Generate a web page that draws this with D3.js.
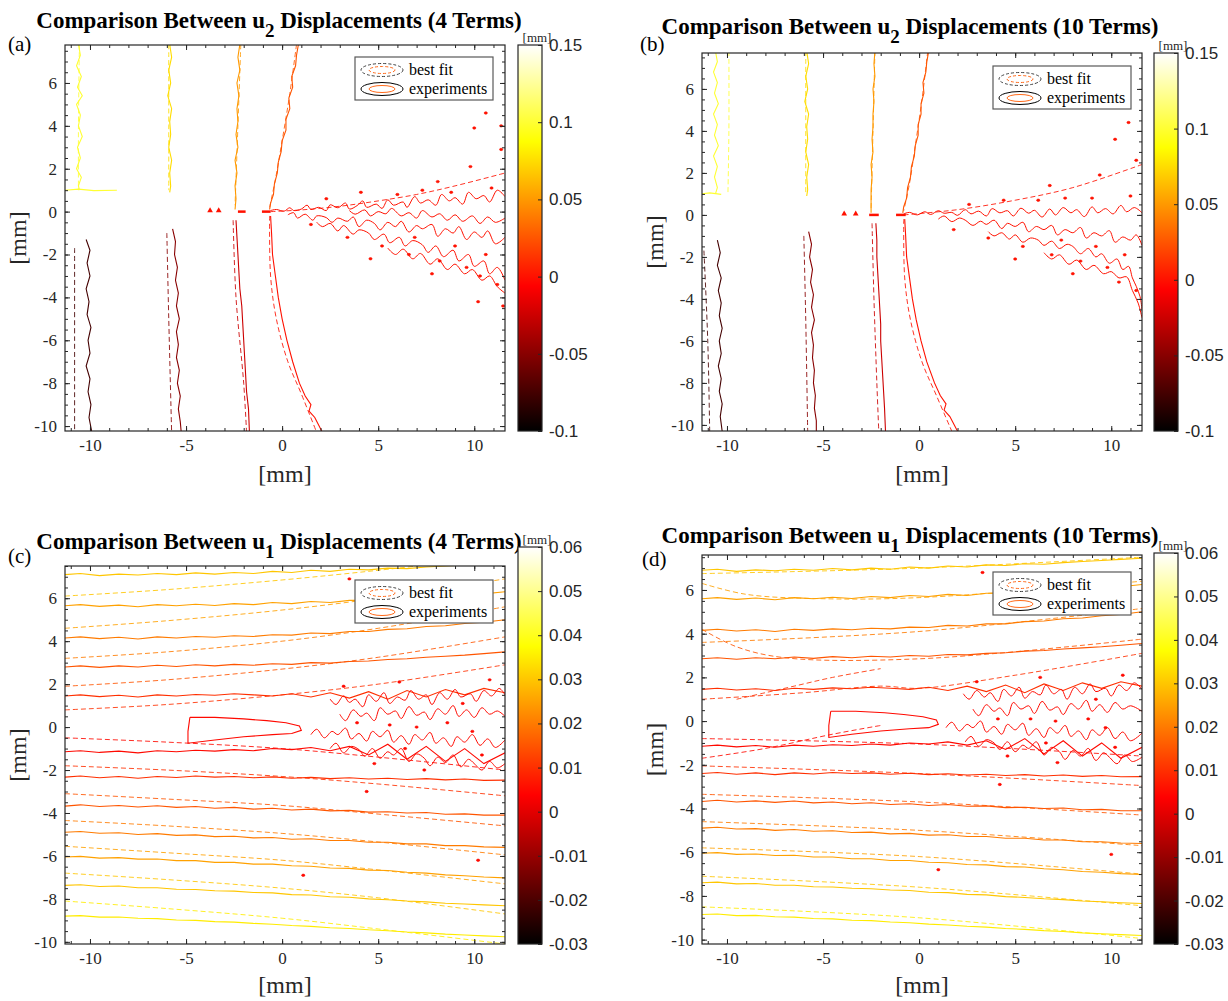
<!DOCTYPE html>
<html>
<head>
<meta charset="utf-8">
<title>u1 / u2 contour comparison</title>
<script src="https://cdn.jsdelivr.net/npm/d3@7"></script>
<style>
  body { margin: 0; background: #fff; }
  svg { display: block; font-family: "Liberation Serif", "Times New Roman", serif; }
  .axis text { fill: #262626; font-size: 17px; }
  .axis line { stroke: #262626; }
</style>
</head>
<body>
<svg id="fig" width="1228" height="1001"></svg>
<script>
// ---------------- data (mm / mm) ----------------
var xMajor = [-10, -5, 0, 5, 10];
var xMinor = d3.range(-11, 12, 1);
var yMajor = [-10, -8, -6, -4, -2, 0, 2, 4, 6];
var yMinor = d3.range(-10, 7.6, 0.5);
var u2Range = [-0.1, 0.15];
var u2Ticks = [-0.1, -0.05, 0, 0.05, 0.1, 0.15];
var u1Range = [-0.03, 0.06];
var u1Ticks = [-0.03, -0.02, -0.01, 0, 0.01, 0.02, 0.03, 0.04, 0.05, 0.06];

// u2, 4 terms : experiments (solid)
var aExp = [
  {lv: 0.1,   p: [-10.6,7.8, -10.5,7.3, -10.7,6.8, -10.45,6.3, -10.65,5.8, -10.4,5.4, -10.7,5.0, -10.5,4.5, -10.6,4.0, -10.4,3.5, -10.65,3.0, -10.5,2.5, -10.7,2.0, -10.45,1.6, -10.6,1.2, -10.55,1.0]},
  {lv: 0.1,   p: [-11.3,1.0, -10.6,1.05, -9.8,0.98, -8.6,1.0]},
  {lv: 0.075, p: [-5.85,7.8, -5.75,7.2, -5.9,6.6, -5.8,6.0, -5.95,5.4, -5.75,4.8, -5.85,4.2, -5.8,3.6, -5.9,3.0, -5.75,2.4, -5.85,1.8, -5.8,1.2, -5.85,0.9]},
  {lv: 0.05,  p: [-2.2,7.8, -2.3,7.2, -2.2,6.6, -2.35,6.0, -2.25,5.4, -2.35,4.8, -2.3,4.2, -2.4,3.6, -2.3,3.0, -2.45,2.4, -2.35,1.8, -2.45,1.2, -2.4,0.6, -2.45,0.1]},
  {lv: 0.025, p: [0.85,7.8, 0.75,7.3, 0.7,6.8, 0.5,6.3, 0.55,5.8, 0.35,5.3, 0.4,4.8, 0.2,4.3, 0.2,3.8, 0.0,3.3, -0.05,2.8, -0.2,2.3, -0.25,1.8, -0.4,1.3, -0.45,0.8, -0.6,0.4, -0.65,0.1]},
  {lv: -0.075, p: [-10.2,-1.3, -10.0,-1.8, -10.15,-2.4, -10.0,-3.0, -10.2,-3.6, -10.05,-4.2, -10.15,-4.8, -9.95,-5.4, -10.1,-6.0, -10.0,-6.6, -10.2,-7.2, -10.0,-7.8, -10.1,-8.4, -9.95,-9.0, -10.05,-9.6, -9.9,-10.3]},
  {lv: -0.05, p: [-5.7,-0.8, -5.55,-1.4, -5.6,-2.0, -5.45,-2.6, -5.55,-3.2, -5.4,-3.8, -5.5,-4.4, -5.35,-5.0, -5.5,-5.6, -5.4,-6.2, -5.5,-6.8, -5.35,-7.4, -5.45,-8.0, -5.3,-8.6, -5.4,-9.2, -5.3,-9.8, -5.25,-10.3]},
  {lv: -0.025, p: [-2.4,-0.4, -2.35,-1.2, -2.3,-2.0, -2.25,-2.8, -2.2,-3.6, -2.1,-4.4, -2.05,-5.2, -2.0,-6.0, -1.95,-6.8, -1.9,-7.6, -1.85,-8.4, -1.75,-9.2, -1.7,-10.3]},
  {lv: 0.0,   p: [-0.6,-0.2, -0.55,-1.0, -0.5,-2.0, -0.35,-3.0, -0.2,-4.0, 0.0,-5.0, 0.25,-6.0, 0.55,-7.0, 0.9,-8.0, 1.2,-8.6, 1.5,-9.0, 1.4,-9.3, 1.7,-9.6, 2.1,-10.3]}
];
// u2, 4 terms : best fit (dashed)
var aFit = [
  {lv: 0.1,    p: [-10.55,7.8, -10.6,4.0, -10.6,1.0]},
  {lv: 0.075,  p: [-5.9,7.8, -5.9,4.0, -5.9,1.0]},
  {lv: 0.05,   p: [-2.15,7.8, -2.3,4.0, -2.45,0.3]},
  {lv: 0.025,  p: [0.75,7.8, 0.4,5.5, 0.0,3.3, -0.35,1.5, -0.65,0.2]},
  {lv: -0.075, p: [-10.8,-1.7, -10.8,-6.0, -10.8,-10.3]},
  {lv: -0.05,  p: [-6.0,-1.0, -5.9,-5.0, -5.75,-10.3]},
  {lv: -0.025, p: [-2.55,-0.4, -2.4,-4.0, -2.0,-8.0, -1.85,-10.3]},
  {lv: 0.0,    p: [-0.65,-0.2, -0.6,-3.0, -0.3,-5.0, 0.3,-7.0, 1.0,-8.5, 1.8,-10.3]},
  {lv: 0.0,    p: [-0.6,0.0, 1,0.08, 3,0.25, 5,0.5, 7,0.8, 9,1.2, 11.6,1.8]}
];
// scattered crack-face contours behind the tip
var aNoise = [
  [-0.6,0.05, -0.3,0.1, 0.1,0.02, 0.4,0.18, 0.6,0.05, 1.0,0.12, 1.3,0.3, 1.5,0.1, 1.9,0.2, 2.3,0.05, 2.5,0.32, 2.9,0.18, 3.3,0.4, 3.5,0.12, 3.9,0.28, 4.2,0.5, 4.4,0.2, 4.9,0.35, 5.2,0.15, 5.5,0.55, 5.8,0.3, 6.3,0.45, 6.5,0.2, 6.9,0.7, 7.2,0.4, 7.6,0.55, 8.0,0.3, 8.3,0.8, 8.7,0.5, 9.0,0.65, 9.4,0.35, 9.7,0.9, 10.1,0.6, 10.5,0.75, 10.8,0.45, 11.2,1.0, 11.6,0.7],
  [0.3,-0.15, 0.6,-0.05, 0.8,-0.3, 1.2,-0.12, 1.6,-0.4, 1.8,-0.2, 2.3,-0.28, 2.6,-0.5, 2.9,-0.3, 3.4,-0.45, 3.7,-0.25, 4.0,-0.7, 4.4,-0.4, 4.8,-0.55, 5.1,-0.85, 5.5,-0.5, 5.9,-0.7, 6.2,-0.45, 6.6,-0.95, 7.0,-0.65, 7.3,-0.8, 7.8,-0.6, 8.1,-1.15, 8.5,-0.8, 8.9,-1.0, 9.2,-0.7, 9.6,-1.3, 10.0,-0.95, 10.4,-1.2, 10.7,-0.9, 11.1,-1.5, 11.6,-1.2],
  [1.8,-0.5, 2.1,-0.7, 2.5,-0.55, 2.9,-0.9, 3.2,-0.65, 3.7,-1.05, 4.0,-0.85, 4.5,-1.0, 4.8,-1.3, 5.3,-1.05, 5.6,-1.45, 6.1,-1.2, 6.4,-1.6, 6.8,-1.35, 7.3,-1.55, 7.6,-1.9, 8.0,-1.6, 8.4,-2.1, 8.9,-1.8, 9.2,-2.3, 9.7,-2.0, 10.0,-2.55, 10.5,-2.3, 10.8,-2.9, 11.2,-2.6, 11.6,-3.2],
  [5.5,-1.7, 5.9,-2.0, 6.3,-1.75, 6.8,-2.2, 7.2,-1.95, 7.7,-2.45, 8.1,-2.2, 8.6,-2.7, 9.0,-2.45, 9.5,-2.9, 9.9,-2.7, 10.4,-3.2, 10.8,-3.0, 11.2,-3.5, 11.6,-3.8],
  [3.5,0.05, 3.8,-0.12, 4.3,0.08, 4.6,-0.2, 5.0,0.0, 5.4,-0.1, 5.7,0.15, 6.2,-0.2, 6.6,-0.05, 7.0,-0.3, 7.3,0.05, 7.8,-0.25, 8.2,-0.1, 8.6,-0.4, 9.0,-0.15, 9.4,-0.45, 9.9,-0.2, 10.3,-0.55, 10.7,-0.25, 11.1,-0.5, 11.6,-0.3]
];
var aDots = [[1.5,-0.6],[2.3,0.6],[3.4,-1.2],[4.1,0.9],[5.2,-1.6],[6.0,0.8],[6.6,-2.0],[7.3,1.0],[8.2,-2.3],[8.8,0.9],[9.6,-2.6],[10.3,-3.0],[10.9,1.1],[11.2,-3.4],[10.6,4.6],[10.0,3.9],[11.4,4.0],[11.4,2.9],[9.8,2.1],[4.6,-2.2],[7.8,-2.9],[9.0,-1.6],[10.6,-2.0],[6.9,-1.2],[8.1,1.4],[10.2,-4.2],[11.5,-4.4]];
var aTips = [[-3.75,0.05],[-3.3,0.05]];
var aBars = [[-2.3,-1.9,0],[-1.05,-0.6,0]];

// u2, 10 terms
var bExp = [
  {lv: 0.1,   p: [-10.6,7.8, -10.5,7.3, -10.7,6.8, -10.5,6.3, -10.65,5.8, -10.45,5.3, -10.7,4.8, -10.5,4.3, -10.65,3.8, -10.45,3.3, -10.7,2.8, -10.5,2.3, -10.65,1.8, -10.5,1.3, -10.6,1.0]},
  {lv: 0.1,   p: [-11.3,1.0, -10.9,1.05, -10.3,0.98]},
  {lv: 0.075, p: [-5.85,7.8, -5.75,7.2, -5.9,6.6, -5.8,6.0, -5.95,5.4, -5.75,4.8, -5.85,4.2, -5.8,3.6, -5.9,3.0, -5.75,2.4, -5.85,1.8, -5.8,1.2, -5.85,0.9]},
  {lv: 0.05,  p: [-2.3,7.8, -2.35,7.2, -2.3,6.6, -2.4,6.0, -2.35,5.4, -2.4,4.8, -2.4,4.2, -2.45,3.6, -2.4,3.0, -2.5,2.4, -2.45,1.8, -2.5,1.2, -2.5,0.6, -2.5,0.1]},
  {lv: 0.025, p: [0.5,7.8, 0.4,7.3, 0.35,6.8, 0.2,6.3, 0.25,5.8, 0.1,5.3, 0.1,4.8, -0.05,4.3, -0.05,3.8, -0.2,3.3, -0.25,2.8, -0.4,2.3, -0.45,1.8, -0.6,1.3, -0.65,0.8, -0.8,0.4, -0.85,0.1]},
  {lv: -0.075, p: [-10.5,-1.2, -10.35,-1.8, -10.5,-2.4, -10.3,-3.0, -10.45,-3.6, -10.3,-4.2, -10.4,-4.8, -10.25,-5.4, -10.4,-6.0, -10.3,-6.6, -10.45,-7.2, -10.3,-7.8, -10.4,-8.4, -10.25,-9.0, -10.35,-9.6, -10.25,-10.3]},
  {lv: -0.05, p: [-5.75,-0.8, -5.6,-1.4, -5.7,-2.0, -5.55,-2.6, -5.65,-3.2, -5.5,-3.8, -5.6,-4.4, -5.45,-5.0, -5.6,-5.6, -5.5,-6.2, -5.55,-6.8, -5.45,-7.4, -5.5,-8.0, -5.4,-8.6, -5.45,-9.2, -5.35,-9.8, -5.35,-10.3]},
  {lv: -0.025, p: [-2.25,-0.4, -2.2,-1.2, -2.2,-2.0, -2.15,-2.8, -2.1,-3.6, -2.05,-4.4, -2.0,-5.2, -2.0,-6.0, -1.95,-6.8, -1.9,-7.6, -1.85,-8.4, -1.8,-9.2, -1.75,-10.3]},
  {lv: 0.0,   p: [-0.75,-0.2, -0.7,-1.0, -0.65,-2.0, -0.5,-3.0, -0.35,-4.0, -0.15,-5.0, 0.1,-6.0, 0.4,-7.0, 0.8,-8.0, 1.1,-8.6, 1.4,-9.0, 1.3,-9.3, 1.6,-9.6, 2.0,-10.3]}
];
var bFit = [
  {lv: 0.1,    p: [-9.9,7.8, -9.9,4.0, -9.95,1.0]},
  {lv: 0.075,  p: [-5.9,7.8, -5.9,4.0, -5.9,1.0]},
  {lv: 0.05,   p: [-2.3,7.8, -2.4,4.0, -2.5,0.3]},
  {lv: 0.025,  p: [0.45,7.8, 0.15,5.5, -0.2,3.3, -0.5,1.5, -0.8,0.2]},
  {lv: -0.075, p: [-11.2,-1.7, -11.0,-6.0, -10.9,-10.3]},
  {lv: -0.05,  p: [-6.0,-1.0, -5.9,-5.0, -5.8,-10.3]},
  {lv: -0.025, p: [-2.45,-0.4, -2.35,-4.0, -2.2,-8.0, -2.1,-10.3]},
  {lv: 0.0,    p: [-0.8,-0.2, -0.75,-3.0, -0.45,-5.0, 0.15,-7.0, 0.9,-8.6, 1.7,-10.3]},
  {lv: 0.0,    p: [-0.8,0.0, 2,0.25, 5,0.7, 8,1.3, 11.6,2.4]}
];
var bNoise = [
  [-0.8,0.05, -0.5,0.12, -0.1,0.0, 0.3,0.15, 0.6,0.02, 1.0,0.2, 1.3,0.08, 1.7,0.12, 2.0,-0.02, 2.4,0.25, 2.7,0.05, 3.1,0.18, 3.5,-0.05, 3.8,0.3, 4.2,0.1, 4.6,0.2, 4.9,-0.05, 5.3,0.32, 5.7,0.08, 6.0,0.22, 6.4,-0.1, 6.8,0.28, 7.1,0.0, 7.5,0.35, 7.9,0.1, 8.2,0.25, 8.6,-0.08, 9.0,0.38, 9.3,0.1, 9.7,0.3, 10.1,0.05, 10.5,0.45, 10.8,0.15, 11.2,0.35, 11.6,0.1],
  [1.0,-0.2, 1.3,-0.05, 1.7,-0.32, 2.1,-0.15, 2.4,-0.25, 2.8,-0.5, 3.2,-0.3, 3.5,-0.45, 3.9,-0.25, 4.3,-0.65, 4.6,-0.4, 5.0,-0.55, 5.4,-0.35, 5.7,-0.8, 6.1,-0.55, 6.5,-0.7, 6.9,-0.5, 7.2,-0.95, 7.6,-0.7, 8.0,-0.85, 8.4,-0.6, 8.7,-1.1, 9.1,-0.85, 9.5,-1.0, 9.9,-0.75, 10.2,-1.3, 10.6,-1.05, 11.0,-1.2, 11.3,-0.95, 11.6,-1.45],
  [3.6,-0.8, 3.9,-1.0, 4.3,-0.85, 4.7,-1.15, 5.0,-0.95, 5.4,-1.3, 5.8,-1.1, 6.2,-1.2, 6.5,-1.45, 6.9,-1.25, 7.3,-1.6, 7.7,-1.4, 8.0,-1.5, 8.4,-1.85, 8.8,-1.6, 9.2,-2.0, 9.5,-1.85, 9.9,-2.3, 10.3,-2.1, 10.6,-2.6, 10.9,-2.45, 11.1,-3.0, 11.3,-3.4, 11.5,-3.9, 11.6,-4.5],
  [6.5,-1.8, 6.9,-2.1, 7.3,-1.9, 7.8,-2.35, 8.2,-2.15, 8.7,-2.6, 9.1,-2.4, 9.6,-2.8, 10.0,-2.7, 10.4,-3.0, 10.8,-2.95, 11.1,-3.6, 11.4,-4.2, 11.6,-4.9]
];
var bDots = [[1.8,-0.7],[2.6,0.5],[3.6,-1.1],[4.4,0.7],[5.4,-1.5],[6.2,0.7],[6.9,-1.9],[7.6,0.8],[8.4,-2.2],[9.0,0.8],[9.8,-2.5],[10.4,-3.2],[11.0,0.9],[11.3,-3.6],[10.9,4.4],[10.2,3.6],[11.3,2.6],[9.4,1.9],[5.0,-2.1],[8.0,-2.8],[6.8,1.4],[9.2,-1.5],[10.7,-1.9],[7.4,-1.2]];
var bTips = [[-3.9,0.05],[-3.3,0.05]];
var bBars = [[-2.6,-2.1,0],[-1.2,-0.7,0]];

// u1 panels: contour heights (y, mm) sampled at u1X
var u1X = [-11.3,-10.5,-9.5,-8.5,-7.5,-6.5,-5.5,-4.5,-3.5,-2.5,-1.5,-0.5,0.5,1.5,2.5,3.5,4.5,5.5,6.5,7.5,8.5,9.5,10.5,11.6];
var cExp = [
  {lv: 0.03,  y: [7.10,7.15,7.05,7.12,7.08,7.15,7.10,7.18,7.12,7.20,7.15,7.25,7.20,7.30,7.25,7.35,7.32,7.40,7.38,7.45,7.50,7.55,7.60,7.65]},
  {lv: 0.025, y: [5.65,5.70,5.62,5.68,5.60,5.70,5.65,5.72,5.66,5.75,5.70,5.80,5.75,5.85,5.80,5.90,5.90,6.00,6.00,6.10,6.10,6.20,6.20,6.30]},
  {lv: 0.02,  y: [4.15,4.20,4.12,4.18,4.10,4.20,4.15,4.22,4.18,4.25,4.22,4.30,4.28,4.38,4.35,4.45,4.45,4.55,4.58,4.68,4.72,4.82,4.88,5.00]},
  {lv: 0.015, y: [2.80,2.85,2.78,2.85,2.80,2.88,2.82,2.90,2.85,2.92,2.88,2.95,2.92,3.00,2.98,3.05,3.08,3.15,3.18,3.25,3.30,3.35,3.42,3.50]},
  {lv: 0.01,  y: [1.45,1.50,1.42,1.48,1.40,1.50,1.45,1.52,1.48,1.55,1.50,1.45,1.55,1.40,1.60,1.35,1.65,1.30,1.70,1.40,1.75,1.50,1.80,1.60]},
  {lv: 0.005, y: [-1.15,-1.10,-1.18,-1.12,-1.20,-1.10,-1.15,-1.08,-1.12,-1.05,-1.10,-1.00,-1.05,-0.95,-1.10,-0.90,-1.30,-0.80,-1.50,-0.90,-1.60,-1.00,-1.70,-1.20]},
  {lv: 0.01,  y: [-2.33,-2.28,-2.36,-2.30,-2.38,-2.30,-2.35,-2.28,-2.33,-2.30,-2.36,-2.32,-2.38,-2.34,-2.40,-2.36,-2.42,-2.38,-2.44,-2.40,-2.46,-2.42,-2.48,-2.47]},
  {lv: 0.015, y: [-3.68,-3.62,-3.70,-3.65,-3.72,-3.66,-3.74,-3.70,-3.78,-3.74,-3.82,-3.78,-3.86,-3.82,-3.90,-3.88,-3.96,-3.94,-4.00,-3.98,-4.06,-4.04,-4.10,-4.10]},
  {lv: 0.02,  y: [-4.90,-4.86,-4.94,-4.92,-5.00,-4.96,-5.04,-5.02,-5.10,-5.08,-5.16,-5.14,-5.22,-5.20,-5.28,-5.28,-5.36,-5.36,-5.44,-5.44,-5.52,-5.52,-5.58,-5.60]},
  {lv: 0.025, y: [-6.05,-6.02,-6.10,-6.08,-6.15,-6.14,-6.22,-6.22,-6.30,-6.30,-6.38,-6.38,-6.46,-6.48,-6.56,-6.58,-6.66,-6.68,-6.76,-6.80,-6.88,-6.92,-6.98,-7.02]},
  {lv: 0.03,  y: [-7.37,-7.34,-7.42,-7.40,-7.48,-7.48,-7.55,-7.56,-7.62,-7.64,-7.70,-7.72,-7.80,-7.82,-7.90,-7.92,-8.00,-8.04,-8.10,-8.14,-8.20,-8.24,-8.28,-8.32]},
  {lv: 0.035, y: [-8.80,-8.78,-8.85,-8.84,-8.90,-8.92,-8.98,-9.00,-9.06,-9.08,-9.14,-9.18,-9.24,-9.28,-9.34,-9.38,-9.44,-9.48,-9.54,-9.58,-9.64,-9.68,-9.72,-9.76]}
];
var cLoop = [-4.8,0.45, -3.5,0.45, -2,0.38, -0.8,0.3, 0.2,0.2, 0.9,0.05, 1.0,-0.15, 0.5,-0.3, -0.5,-0.35, -2,-0.45, -3.5,-0.6, -4.9,-0.75, -4.9,-0.2, -4.8,0.45];
var cFit = [
  {lv: 0.03,  p: [-11.3,6.1, -6,6.4, 0,6.85, 5,7.3, 9,7.7]},
  {lv: 0.025, p: [-11.3,4.6, -6,4.95, 0,5.45, 5,6.0, 11.6,6.9]},
  {lv: 0.02,  p: [-11.3,3.2, -6,3.5, 0,4.0, 5,4.6, 11.6,5.6]},
  {lv: 0.015, p: [-11.3,1.9, -6,2.2, 0,2.7, 5,3.25, 11.6,4.2]},
  {lv: 0.01,  p: [-11.3,0.8, -6,1.05, 0,1.5, 5,2.0, 11.6,2.9]},
  {lv: 0.005, p: [-11.3,-0.5, -6,-0.7, 0,-1.0, 5,-1.4, 11.6,-2.0]},
  {lv: 0.01,  p: [-11.3,-1.8, -6,-2.0, 0,-2.3, 5,-2.65, 11.6,-3.2]},
  {lv: 0.015, p: [-11.3,-3.1, -6,-3.35, 0,-3.65, 5,-4.05, 11.6,-4.6]},
  {lv: 0.02,  p: [-11.3,-4.35, -6,-4.6, 0,-4.95, 5,-5.35, 11.6,-5.95]},
  {lv: 0.025, p: [-11.3,-5.55, -6,-5.85, 0,-6.2, 5,-6.65, 11.6,-7.3]},
  {lv: 0.03,  p: [-11.3,-6.8, -6,-7.1, 0,-7.5, 5,-7.95, 11.6,-8.7]},
  {lv: 0.035, p: [-11.3,-8.1, -6,-8.45, 0,-8.9, 5,-9.4, 11.6,-10.1]}
];
var cNoise = [
  [2.5,1.3, 2.8,1.05, 3.2,1.45, 3.5,1.15, 3.8,1.3, 4.2,0.95, 4.5,1.5, 4.9,1.2, 5.3,1.6, 5.6,1.1, 6.0,1.4, 6.4,1.25, 6.7,1.7, 7.1,1.3, 7.5,1.5, 7.8,1.05, 8.2,1.6, 8.6,1.3, 9.0,1.75, 9.3,1.4, 9.8,1.55, 10.1,1.2, 10.5,1.7, 10.9,1.45, 11.3,1.8, 11.6,1.5],
  [3.0,0.6, 3.3,0.3, 3.7,0.8, 4.1,0.5, 4.4,0.65, 4.8,0.3, 5.1,0.9, 5.5,0.6, 5.9,0.75, 6.2,0.4, 6.6,0.95, 7.0,0.55, 7.4,0.7, 7.7,0.35, 8.1,0.85, 8.5,0.6, 8.9,1.0, 9.2,0.5, 9.6,0.8, 10.0,0.45, 10.4,0.9, 10.8,0.6, 11.2,0.75, 11.6,0.5],
  [1.5,-0.35, 1.8,-0.1, 2.2,-0.5, 2.6,-0.2, 2.9,-0.35, 3.3,-0.05, 3.6,-0.55, 4.0,-0.3, 4.4,-0.65, 4.7,-0.2, 5.1,-0.45, 5.5,-0.15, 5.8,-0.7, 6.2,-0.4, 6.6,-0.8, 6.9,-0.35, 7.3,-0.6, 7.7,-0.25, 8.0,-0.75, 8.4,-0.5, 8.8,-0.9, 9.1,-0.45, 9.5,-0.7, 9.9,-0.35, 10.3,-0.85, 10.7,-0.55, 11.1,-0.95, 11.6,-0.6],
  [2.5,-1.0, 2.8,-0.75, 3.2,-1.2, 3.6,-0.9, 4.0,-1.05, 4.3,-1.35, 4.7,-1.0, 5.1,-1.45, 5.5,-1.15, 5.8,-1.3, 6.2,-1.0, 6.6,-1.6, 7.0,-1.25, 7.4,-1.45, 7.7,-1.8, 8.1,-1.4, 8.5,-1.65, 8.9,-1.3, 9.3,-1.85, 9.7,-1.5, 10.0,-1.7, 10.4,-2.0, 10.8,-1.6, 11.2,-1.9, 11.6,-1.7]
];
var cDots = [[3.2,1.9],[4.8,-1.7],[6.1,2.1],[7.4,-2.0],[8.6,0.2],[9.9,-0.2],[10.8,2.2],[3.9,0.2],[5.6,0.1],[7.0,0.0],[8.9,6.6],[3.5,6.9],[1.1,-6.9],[10.2,-6.2],[4.4,-3.0],[9.4,1.1],[6.4,-1.0],[10.4,-1.3]];

var dExp = [
  {lv: 0.03,  y: [6.90,6.95,6.85,6.92,6.88,6.95,6.90,6.98,6.92,7.00,6.95,7.05,7.00,7.10,7.05,7.15,7.12,7.20,7.18,7.25,7.30,7.35,7.40,7.45]},
  {lv: 0.025, y: [5.60,5.65,5.57,5.63,5.55,5.65,5.60,5.67,5.61,5.70,5.65,5.75,5.70,5.80,5.75,5.85,5.85,5.95,5.95,6.05,6.05,6.15,6.15,6.25]},
  {lv: 0.02,  y: [4.15,4.20,4.12,4.18,4.10,4.20,4.15,4.22,4.18,4.25,4.22,4.30,4.28,4.38,4.35,4.45,4.45,4.55,4.58,4.68,4.72,4.82,4.88,5.00]},
  {lv: 0.015, y: [2.85,2.90,2.83,2.90,2.85,2.93,2.87,2.95,2.90,2.97,2.93,3.00,2.97,3.05,3.03,3.10,3.13,3.20,3.23,3.30,3.35,3.40,3.47,3.55]},
  {lv: 0.01,  y: [1.45,1.50,1.42,1.48,1.40,1.50,1.45,1.52,1.48,1.55,1.50,1.45,1.55,1.40,1.60,1.35,1.65,1.30,1.70,1.40,1.75,1.50,1.80,1.60]},
  {lv: 0.005, y: [-1.15,-1.10,-1.18,-1.12,-1.20,-1.10,-1.15,-1.08,-1.12,-1.05,-1.10,-1.00,-1.05,-0.95,-1.10,-0.90,-1.30,-0.80,-1.50,-0.90,-1.60,-1.00,-1.70,-1.20]},
  {lv: 0.01,  y: [-2.40,-2.35,-2.43,-2.37,-2.45,-2.37,-2.42,-2.35,-2.40,-2.37,-2.43,-2.39,-2.45,-2.41,-2.47,-2.43,-2.49,-2.45,-2.51,-2.47,-2.53,-2.49,-2.55,-2.54]},
  {lv: 0.015, y: [-3.68,-3.62,-3.70,-3.65,-3.72,-3.66,-3.74,-3.70,-3.78,-3.74,-3.82,-3.78,-3.86,-3.82,-3.90,-3.88,-3.96,-3.94,-4.00,-3.98,-4.06,-4.04,-4.10,-4.10]},
  {lv: 0.02,  y: [-4.90,-4.86,-4.94,-4.92,-5.00,-4.96,-5.04,-5.02,-5.10,-5.08,-5.16,-5.14,-5.22,-5.20,-5.28,-5.28,-5.36,-5.36,-5.44,-5.44,-5.52,-5.52,-5.58,-5.60]},
  {lv: 0.025, y: [-6.05,-6.02,-6.10,-6.08,-6.15,-6.14,-6.22,-6.22,-6.30,-6.30,-6.38,-6.38,-6.46,-6.48,-6.56,-6.58,-6.66,-6.68,-6.76,-6.80,-6.88,-6.92,-6.98,-7.02]},
  {lv: 0.03,  y: [-7.40,-7.37,-7.45,-7.43,-7.51,-7.51,-7.58,-7.59,-7.65,-7.67,-7.73,-7.75,-7.83,-7.85,-7.93,-7.95,-8.03,-8.07,-8.13,-8.17,-8.23,-8.27,-8.31,-8.35]},
  {lv: 0.035, y: [-8.85,-8.83,-8.90,-8.89,-8.95,-8.97,-9.03,-9.05,-9.11,-9.13,-9.19,-9.23,-9.29,-9.33,-9.39,-9.43,-9.49,-9.53,-9.59,-9.63,-9.69,-9.73,-9.77,-9.81]}
];
var dLoop = [-4.6,0.45, -3.3,0.45, -1.8,0.38, -0.8,0.3, 0.2,0.2, 0.9,0.05, 1.0,-0.15, 0.5,-0.3, -0.5,-0.35, -2,-0.45, -3.5,-0.6, -4.7,-0.75, -4.7,-0.2, -4.6,0.45];
var dFit = [
  {lv: 0.03,  p: [-11.3,6.75, 0,7.0, 11.6,7.5]},
  {lv: 0.025, p: [-11.3,6.3, -9,5.8, -5,5.6, 0,5.65, 11.6,6.4]},
  {lv: 0.02,  p: [-11.3,3.6, 0,4.1, 11.6,5.15]},
  {lv: 0.015, p: [-11.3,4.2, -9.5,3.4, -7,2.9, 0,2.85, 11.6,3.75]},
  {lv: 0.01,  p: [-11.3,1.0, -6,1.3, -2,1.6, 0,1.5, 5,2.1, 11.6,3.1]},
  {lv: 0.01,  p: [-9.5,1.0, -8,1.3, -6.5,1.6, -4.5,2.0, -2,2.4]},
  {lv: 0.005, p: [-11.3,-1.7, -8,-1.25, -4.5,-0.6, -2,-0.2]},
  {lv: 0.005, p: [-11.3,-0.8, 0,-1.05, 11.6,-1.6]},
  {lv: 0.01,  p: [-11.3,-2.05, 0,-2.4, 11.6,-2.95]},
  {lv: 0.015, p: [-11.3,-3.35, 0,-3.7, 11.6,-4.3]},
  {lv: 0.02,  p: [-11.3,-4.6, 0,-5.0, 11.6,-5.7]},
  {lv: 0.025, p: [-11.3,-5.8, 0,-6.2, 11.6,-7.0]},
  {lv: 0.03,  p: [-11.3,-7.1, 0,-7.6, 11.6,-8.45]},
  {lv: 0.035, p: [-11.3,-8.5, 0,-9.0, 11.6,-9.95]}
];
var dNoise = [
  [2.3,1.25, 2.6,1.0, 3.0,1.4, 3.4,1.1, 3.7,1.3, 4.1,0.9, 4.4,1.45, 4.8,1.15, 5.2,1.55, 5.5,1.05, 5.9,1.35, 6.3,1.2, 6.6,1.65, 7.0,1.25, 7.4,1.45, 7.7,1.0, 8.1,1.55, 8.5,1.25, 8.9,1.7, 9.2,1.35, 9.7,1.5, 10.0,1.15, 10.4,1.65, 10.8,1.4, 11.2,1.75, 11.6,1.45],
  [2.8,0.55, 3.1,0.25, 3.5,0.75, 3.9,0.45, 4.2,0.6, 4.6,0.25, 4.9,0.85, 5.3,0.55, 5.7,0.7, 6.0,0.35, 6.4,0.9, 6.8,0.5, 7.2,0.65, 7.5,0.3, 7.9,0.8, 8.3,0.55, 8.7,0.95, 9.0,0.45, 9.4,0.75, 9.8,0.4, 10.2,0.85, 10.6,0.55, 11.0,0.7, 11.6,0.45],
  [1.4,-0.3, 1.7,-0.05, 2.1,-0.45, 2.5,-0.15, 2.8,-0.3, 3.2,0.0, 3.5,-0.5, 3.9,-0.25, 4.3,-0.6, 4.6,-0.15, 5.0,-0.4, 5.4,-0.1, 5.7,-0.65, 6.1,-0.35, 6.5,-0.75, 6.8,-0.3, 7.2,-0.55, 7.6,-0.2, 7.9,-0.7, 8.3,-0.45, 8.7,-0.85, 9.0,-0.4, 9.4,-0.65, 9.8,-0.3, 10.2,-0.8, 10.6,-0.5, 11.0,-0.9, 11.6,-0.55],
  [2.4,-0.95, 2.7,-0.7, 3.1,-1.15, 3.5,-0.85, 3.9,-1.0, 4.2,-1.3, 4.6,-0.95, 5.0,-1.4, 5.4,-1.1, 5.7,-1.25, 6.1,-0.95, 6.5,-1.55, 6.9,-1.2, 7.3,-1.4, 7.6,-1.75, 8.0,-1.35, 8.4,-1.6, 8.8,-1.25, 9.2,-1.8, 9.6,-1.45, 9.9,-1.65, 10.3,-1.95, 10.7,-1.55, 11.1,-1.85, 11.6,-1.65]
];
var dDots = [[3.0,1.8],[4.6,-1.6],[6.3,2.0],[7.2,-1.9],[8.8,0.1],[9.7,-0.3],[10.6,2.1],[4.1,0.1],[5.8,0.1],[7.1,0.0],[8.6,6.5],[3.3,6.8],[1.0,-6.8],[10.0,-6.1],[4.2,-2.9],[9.2,1.0],[6.6,-1.0],[10.2,-1.2]];

var titles = [
  {q: "2", t: "4 Terms"}, {q: "2", t: "10 Terms"},
  {q: "1", t: "4 Terms"}, {q: "1", t: "10 Terms"}
];
var tags = ["(a)", "(b)", "(c)", "(d)"];
var legendText = ["best fit", "experiments"];

// ---------------- layout ----------------
var svg = d3.select("#fig");
var defs = svg.append("defs");
var xDomain = [-11.3, 11.6];

var panels = [
  {id: "a", box: [65, 45, 505, 431],  cb: [518, 45, 542, 431],  yd: [-10.23, 7.77], cd: u2Range, ct: u2Ticks,
   exp: aExp.map(function(c){ return {lv: c.lv, pts: pairs(c.p)}; }), fit: aFit, noise: aNoise, dots: aDots, tips: aTips, bars: aBars,
   title: [279, 28], tag: [8, 51], unit: [537, 42], leg: [355, 57], ylab: 18, xlab: 482},
  {id: "b", box: [702, 53, 1142, 431], cb: [1154, 53, 1178, 431], yd: [-10.29, 7.71], cd: u2Range, ct: u2Ticks,
   exp: bExp.map(function(c){ return {lv: c.lv, pts: pairs(c.p)}; }), fit: bFit, noise: bNoise, dots: bDots, tips: bTips, bars: bBars,
   title: [910, 34], tag: [640, 51], unit: [1173, 50], leg: [993, 66], ylab: 655, xlab: 482},
  {id: "c", box: [65, 566, 505, 944], cb: [518, 547, 542, 944], yd: [-10.1, 7.5], cd: u1Range, ct: u1Ticks,
   exp: u1Lines(cExp, cLoop), fit: cFit, noise: cNoise, dots: cDots, tips: [], bars: [],
   title: [279, 549], tag: [8, 563], unit: [537, 544], leg: [355, 580], ylab: 18, xlab: 993},
  {id: "d", box: [702, 555, 1142, 944], cb: [1154, 553, 1178, 944], yd: [-10.2, 7.6], cd: u1Range, ct: u1Ticks,
   exp: u1Lines(dExp, dLoop), fit: dFit, noise: dNoise, dots: dDots, tips: [], bars: [],
   title: [910, 543], tag: [642, 566], unit: [1173, 550], leg: [993, 572], ylab: 655, xlab: 993}
];

function pairs(a) {
  var r = [];
  for (var i = 0; i < a.length; i += 2) r.push([a[i], a[i + 1]]);
  return r;
}

function u1Lines(exp, loop) {
  var out = exp.map(function(c) {
    return {lv: c.lv, pts: u1X.map(function(x, i) { return [x, c.y[i]]; })};
  });
  out.push({lv: 0.005, pts: pairs(loop)});
  return out;
}

// MATLAB "hot": black -> red -> yellow -> white
function hot(range) {
  var lo = range[0], s = range[1] - range[0];
  return d3.scaleLinear()
    .domain([lo, lo + 0.375 * s, lo + 0.75 * s, range[1]])
    .range(["#000000", "#ff0000", "#ffff00", "#ffffff"])
    .clamp(true);
}

panels.forEach(drawPanel);

function drawPanel(p, k) {
  var x0 = p.box[0], y0 = p.box[1], x1 = p.box[2], y1 = p.box[3];
  var x = d3.scaleLinear().domain(xDomain).range([x0, x1]);
  var y = d3.scaleLinear().domain(p.yd).range([y1, y0]);
  var col = hot(p.cd);
  var g = svg.append("g");

  defs.append("clipPath").attr("id", "clip-" + p.id)
    .append("rect").attr("x", x0).attr("y", y0).attr("width", x1 - x0).attr("height", y1 - y0);
  var plot = g.append("g").attr("clip-path", "url(#clip-" + p.id + ")");

  var line = d3.line().x(function(d){ return x(d[0]); }).y(function(d){ return y(d[1]); });
  var smooth = d3.line().x(function(d){ return x(d[0]); }).y(function(d){ return y(d[1]); }).curve(d3.curveCatmullRom);

  // best fit contours
  plot.selectAll("path.fit").data(p.fit).enter().append("path")
    .attr("class", "fit")
    .attr("d", function(c){ return smooth(pairs(c.p)); })
    .attr("fill", "none")
    .attr("stroke", function(c){ return col(c.lv); })
    .attr("stroke-opacity", 0.85)
    .attr("stroke-width", 1)
    .attr("stroke-dasharray", "5,3");

  // experiment contours
  plot.selectAll("path.exp").data(p.exp).enter().append("path")
    .attr("class", "exp")
    .attr("d", function(c){ return line(c.pts); })
    .attr("fill", "none")
    .attr("stroke", function(c){ return col(c.lv); })
    .attr("stroke-width", 1.1);

  var noiseCol = p.id < "c" ? col(0) : col(0.005);
  plot.selectAll("path.noise").data(p.noise).enter().append("path")
    .attr("class", "noise")
    .attr("d", function(c){ return smooth(pairs(c)); })
    .attr("fill", "none")
    .attr("stroke", noiseCol)
    .attr("stroke-width", 1);

  plot.selectAll("ellipse.dot").data(p.dots).enter().append("ellipse")
    .attr("cx", function(d){ return x(d[0]); })
    .attr("cy", function(d){ return y(d[1]); })
    .attr("rx", 1.6).attr("ry", 1.2)
    .attr("fill", noiseCol).attr("stroke", noiseCol).attr("stroke-width", 0.6);

  plot.selectAll("path.tip").data(p.tips).enter().append("path")
    .attr("transform", function(d){ return "translate(" + x(d[0]) + "," + y(d[1]) + ")"; })
    .attr("d", d3.symbol(d3.symbolTriangle, 14))
    .attr("fill", col(0));
  plot.selectAll("line.bar").data(p.bars).enter().append("line")
    .attr("x1", function(d){ return x(d[0]); }).attr("x2", function(d){ return x(d[1]); })
    .attr("y1", function(d){ return y(d[2]); }).attr("y2", function(d){ return y(d[2]); })
    .attr("stroke", col(0)).attr("stroke-width", 2.5);

  // axes (ticks pointing inward, MATLAB style)
  var ax = g.append("g").attr("class", "axis");
  function put(gen, tx, ty, vals, size, labels, pad) {
    var a = ax.append("g").attr("transform", "translate(" + tx + "," + ty + ")")
      .call(gen.tickValues(vals).tickSize(size).tickSizeOuter(0).tickPadding(pad || 0)
        .tickFormat(labels ? function(d){ return String(d); } : ""));
    a.select(".domain").remove();
    return a;
  }
  put(d3.axisBottom(x), 0, y1, xMajor, -5, true, 8);
  put(d3.axisBottom(x), 0, y1, xMinor, -3, false);
  put(d3.axisTop(x), 0, y0, xMajor, -5, false);
  put(d3.axisTop(x), 0, y0, xMinor, -3, false);
  put(d3.axisLeft(y), x0, 0, yMajor, -5, true, 8);
  put(d3.axisLeft(y), x0, 0, yMinor, -3, false);
  put(d3.axisRight(y), x1, 0, yMajor, -5, false);
  put(d3.axisRight(y), x1, 0, yMinor, -3, false);
  ax.selectAll("text").attr("font-family", "Liberation Serif");

  g.append("rect").attr("x", x0).attr("y", y0).attr("width", x1 - x0).attr("height", y1 - y0)
    .attr("fill", "none").attr("stroke", "#262626").attr("stroke-width", 1.2);

  // axis labels
  g.append("text").attr("x", (x0 + x1) / 2).attr("y", p.xlab)
    .attr("text-anchor", "middle").attr("font-size", 24).attr("fill", "#262626").text("[mm]");
  g.append("text").attr("transform", "translate(" + (p.ylab + 8) + "," + ((y0 + y1) / 2) + ") rotate(-90)")
    .attr("text-anchor", "middle").attr("font-size", 24).attr("fill", "#262626").text("[mm]");

  // colorbar unit
  g.append("text").attr("x", p.unit[0]).attr("y", p.unit[1]).attr("text-anchor", "middle")
    .attr("font-size", 13).attr("fill", "#262626").text("[mm]");

  // title
  var tt = g.append("text").attr("x", p.title[0]).attr("y", p.title[1])
    .attr("text-anchor", "middle").attr("font-size", 23).attr("font-weight", "bold").attr("fill", "#000");
  tt.append("tspan").text("Comparison Between u");
  tt.append("tspan").attr("dy", 9).attr("font-size", 19).text(titles[k].q);
  tt.append("tspan").attr("dy", -9).text(" Displacements (" + titles[k].t + ")");
  g.append("text").attr("x", p.tag[0]).attr("y", p.tag[1]).attr("font-size", 21).attr("fill", "#000").text(tags[k]);

  // legend
  var lx = p.leg[0], ly = p.leg[1];
  var lg = g.append("g");
  lg.append("rect").attr("x", lx).attr("y", ly).attr("width", 138).attr("height", 43)
    .attr("fill", "#fff").attr("stroke", "#595959").attr("stroke-width", 1.2);
  legendText.forEach(function(t, i) {
    var cy = ly + 13 + i * 19, cx = lx + 27;
    var dash = i === 0 ? "3,2" : null;
    lg.append("ellipse").attr("cx", cx).attr("cy", cy).attr("rx", 21).attr("ry", 6.5)
      .attr("fill", "none").attr("stroke", i === 0 ? "#404040" : "#000").attr("stroke-width", 1).attr("stroke-dasharray", dash);
    lg.append("ellipse").attr("cx", cx).attr("cy", cy).attr("rx", 13).attr("ry", 3.5)
      .attr("fill", "none").attr("stroke", "#ff6a1a").attr("stroke-width", 1).attr("stroke-dasharray", dash);
    lg.append("text").attr("x", lx + 54).attr("y", cy + 5).attr("font-size", 16).attr("fill", "#000").text(t);
  });

  // colorbar
  var cb = p.cb;
  var cy = d3.scaleLinear().domain(p.cd).range([cb[3], cb[1]]);
  var gid = "grad-" + p.id;
  var grad = defs.append("linearGradient").attr("id", gid).attr("x1", 0).attr("y1", 1).attr("x2", 0).attr("y2", 0);
  [0, 0.375, 0.75, 1].forEach(function(f) {
    grad.append("stop").attr("offset", f).attr("stop-color", col(p.cd[0] + f * (p.cd[1] - p.cd[0])));
  });
  g.append("rect").attr("x", cb[0]).attr("y", cb[1]).attr("width", cb[2] - cb[0]).attr("height", cb[3] - cb[1])
    .attr("fill", "url(#" + gid + ")").attr("stroke", "#262626").attr("stroke-width", 1.2);
  var cax = g.append("g").attr("class", "axis").attr("transform", "translate(" + cb[2] + ",0)")
    .call(d3.axisRight(cy).tickValues(p.ct).tickSize(-4).tickSizeOuter(0).tickPadding(7)
      .tickFormat(function(d){ return String(d); }));
  cax.select(".domain").remove();
}
</script>
</body>
</html>
